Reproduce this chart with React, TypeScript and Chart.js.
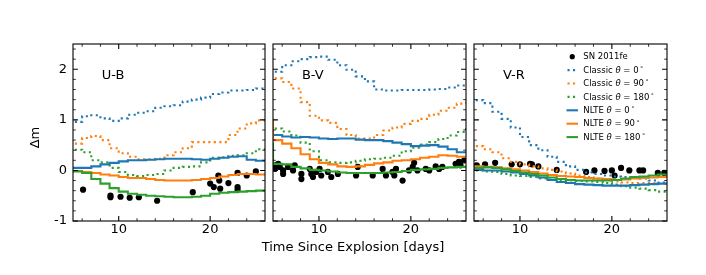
import React, { useEffect, useRef } from "react";
import { Chart, registerables } from "chart.js";

Chart.register(...registerables);

const FONT = "'DejaVu Sans', 'Liberation Sans', sans-serif";
const BLUE = "#1f77b4";
const ORANGE = "#ff7f0e";
const GREEN = "#2ca02c";

// ---------- data ----------
const MODEL_DAYS = [4, 5, 6, 7, 8, 9, 10, 11, 12, 13, 14, 15, 16, 17, 18, 19, 20, 21, 22, 23, 24, 25, 26];

const X_MIN = 5;
const X_MAX = 26;
const Y_MIN = -1;
const Y_MAX = 2.5;
const X_TICKS = [10, 20];
const X_MINOR_TICKS = [6, 8, 12, 14, 16, 18, 22, 24];
const Y_TICKS = [-1, 0, 1, 2];
const Y_MINOR_TICKS = [-0.8, -0.6, -0.4, -0.2, 0.2, 0.4, 0.6, 0.8, 1.2, 1.4, 1.6, 1.8, 2.2, 2.4];

const PANEL_LABELS = ["U-B", "B-V", "V-R"];
const OBS_LABEL = "SN 2011fe";
const MODEL_KINDS = ["Classic", "Classic", "Classic", "NLTE", "NLTE", "NLTE"];
const MODEL_ANGLES = [0, 90, 180, 0, 90, 180];
const X_TITLE = "Time Since Explosion [days]";
const Y_TITLE = "Δm";

// U-B
const UB_OBS_DAYS = [6.1, 9.1, 9.1, 10.2, 11.2, 12.2, 14.2, 18.1, 20.0, 20.4, 20.9, 21.0, 21.1, 22.0, 23.0, 23.0, 23.0, 24.0, 25.0];
const UB_OBS = [-0.38, -0.5, -0.53, -0.52, -0.54, -0.53, -0.6, -0.43, -0.26, -0.33, -0.1, -0.2, -0.36, -0.25, -0.05, -0.33, -0.38, -0.1, -0.02];
const UB_CLASSIC_0 = [0.96, 0.96, 1.07, 1.09, 1.03, 0.98, 1.03, 1.1, 1.14, 1.17, 1.24, 1.27, 1.29, 1.36, 1.4, 1.44, 1.51, 1.54, 1.58, 1.58, 1.59, 1.62, 1.66];
const UB_CLASSIC_90 = [0.53, 0.53, 0.64, 0.68, 0.6, 0.44, 0.34, 0.27, 0.22, 0.22, 0.23, 0.3, 0.36, 0.44, 0.56, 0.56, 0.56, 0.56, 0.7, 0.83, 0.93, 0.99, 1.0];
const UB_CLASSIC_180 = [0.41, 0.41, 0.36, 0.2, 0.16, 0.05, -0.03, -0.09, -0.11, -0.09, -0.07, 0.0, 0.05, 0.07, 0.08, 0.16, 0.25, 0.26, 0.29, 0.3, 0.34, 0.42, 0.44];
const UB_NLTE_0 = [0.05, 0.05, 0.05, 0.08, 0.12, 0.15, 0.18, 0.2, 0.2, 0.21, 0.22, 0.23, 0.23, 0.23, 0.22, 0.21, 0.23, 0.25, 0.27, 0.28, 0.21, 0.19, 0.19];
const UB_NLTE_90 = [-0.01, -0.01, -0.03, -0.05, -0.08, -0.1, -0.13, -0.15, -0.15, -0.17, -0.19, -0.2, -0.2, -0.2, -0.19, -0.17, -0.15, -0.12, -0.09, -0.07, -0.07, -0.08, -0.1];
const UB_NLTE_180 = [-0.02, -0.02, -0.05, -0.17, -0.26, -0.35, -0.42, -0.46, -0.48, -0.5, -0.51, -0.52, -0.53, -0.53, -0.52, -0.5, -0.46, -0.44, -0.43, -0.42, -0.41, -0.4, -0.38];

// B-V
const BV_OBS_DAYS = [5.2, 5.2, 5.56, 5.74, 6.1, 6.1, 6.64, 7.18, 7.36, 8.09, 8.09, 9.0, 9.17, 9.35, 9.71, 10.07, 10.25, 10.97, 11.34, 12.06, 14.22, 14.04, 15.85, 16.93, 17.29, 18.0, 18.2, 18.38, 19.1, 19.8, 20.2, 20.36, 20.72, 21.62, 22.0, 22.7, 23.07, 23.43, 24.87, 25.23, 25.4, 25.8];
const BV_OBS = [0.1, 0.03, 0.13, 0.07, 0.0, -0.07, 0.07, 0.0, 0.1, -0.07, -0.17, 0.03, -0.07, -0.13, -0.03, 0.03, -0.1, -0.03, -0.13, -0.07, 0.07, -0.1, -0.1, 0.03, -0.1, -0.03, -0.1, 0.03, -0.2, 0.0, 0.07, 0.15, 0.0, 0.03, 0.0, 0.08, 0.03, 0.07, 0.13, 0.17, 0.1, 0.2];
const BV_CLASSIC_0 = [1.95, 1.95, 2.08, 2.16, 2.2, 2.24, 2.25, 2.19, 2.08, 1.99, 1.86, 1.76, 1.6, 1.58, 1.58, 1.59, 1.59, 1.59, 1.6, 1.61, 1.64, 1.68, 1.73];
const BV_CLASSIC_90 = [1.82, 1.82, 1.75, 1.62, 1.35, 1.08, 0.99, 0.94, 0.82, 0.7, 0.63, 0.63, 0.7, 0.79, 0.85, 0.92, 0.98, 1.02, 1.1, 1.18, 1.24, 1.32, 1.4];
const BV_CLASSIC_180 = [0.83, 0.83, 0.77, 0.69, 0.55, 0.38, 0.2, 0.16, 0.15, 0.16, 0.19, 0.22, 0.23, 0.25, 0.29, 0.38, 0.45, 0.51, 0.56, 0.62, 0.69, 0.76, 0.84];
const BV_NLTE_0 = [0.7, 0.7, 0.67, 0.65, 0.66, 0.65, 0.63, 0.62, 0.63, 0.63, 0.61, 0.6, 0.6, 0.58, 0.55, 0.52, 0.48, 0.49, 0.5, 0.47, 0.42, 0.36, 0.34];
const BV_NLTE_90 = [1.0, 0.6, 0.53, 0.44, 0.32, 0.22, 0.15, 0.12, 0.08, 0.07, 0.08, 0.11, 0.14, 0.16, 0.19, 0.2, 0.22, 0.25, 0.27, 0.3, 0.29, 0.27, 0.26];
const BV_NLTE_180 = [0.53, 0.13, 0.12, 0.07, 0.04, 0.01, 0.0, -0.02, -0.04, -0.05, -0.05, -0.05, -0.05, -0.04, -0.03, -0.01, 0.01, 0.02, 0.03, 0.05, 0.06, 0.07, 0.07];

// V-R
const VR_OBS_DAYS = [5.3, 6.2, 7.3, 9.1, 10.0, 11.1, 11.3, 12.0, 14.0, 17.2, 18.1, 19.2, 20.0, 20.3, 21.0, 21.9, 23.0, 23.4, 25.0, 25.7];
const VR_OBS = [0.1, 0.12, 0.15, 0.12, 0.12, 0.13, 0.12, 0.08, 0.01, -0.03, 0.0, -0.01, 0.0, -0.1, 0.05, 0.0, 0.0, 0.0, -0.05, -0.05];
const VR_CLASSIC_0 = [1.39, 1.39, 1.33, 1.16, 1.02, 0.85, 0.66, 0.5, 0.4, 0.27, 0.17, 0.08, 0.01, -0.04, -0.07, -0.1, -0.12, -0.13, -0.13, -0.16, -0.2, -0.24, -0.26];
const VR_CLASSIC_90 = [0.48, 0.48, 0.42, 0.36, 0.24, 0.17, 0.12, 0.08, 0.04, 0.01, -0.02, -0.06, -0.1, -0.13, -0.16, -0.19, -0.22, -0.24, -0.25, -0.25, -0.25, -0.26, -0.26];
const VR_CLASSIC_180 = [0.0, 0.0, -0.02, -0.03, -0.07, -0.1, -0.11, -0.13, -0.16, -0.18, -0.19, -0.2, -0.21, -0.22, -0.23, -0.25, -0.28, -0.31, -0.34, -0.36, -0.39, -0.42, -0.43];
const VR_NLTE_0 = [0.01, 0.01, 0.0, 0.0, -0.02, -0.04, -0.07, -0.1, -0.14, -0.19, -0.23, -0.25, -0.27, -0.28, -0.29, -0.3, -0.3, -0.3, -0.29, -0.28, -0.27, -0.26, -0.25];
const VR_NLTE_90 = [0.08, 0.08, 0.07, 0.06, 0.04, 0.02, 0.0, -0.03, -0.06, -0.09, -0.11, -0.12, -0.13, -0.15, -0.16, -0.17, -0.19, -0.18, -0.16, -0.15, -0.14, -0.13, -0.12];
const VR_NLTE_180 = [0.05, 0.05, 0.06, 0.05, 0.02, -0.01, -0.04, -0.07, -0.1, -0.14, -0.17, -0.19, -0.2, -0.2, -0.2, -0.2, -0.19, -0.16, -0.13, -0.12, -0.1, -0.08, -0.07];

const PANEL_OBS_DAYS = [UB_OBS_DAYS, BV_OBS_DAYS, VR_OBS_DAYS];
const PANEL_OBS = [UB_OBS, BV_OBS, VR_OBS];
const PANEL_MODELS = [
  [UB_CLASSIC_0, UB_CLASSIC_90, UB_CLASSIC_180, UB_NLTE_0, UB_NLTE_90, UB_NLTE_180],
  [BV_CLASSIC_0, BV_CLASSIC_90, BV_CLASSIC_180, BV_NLTE_0, BV_NLTE_90, BV_NLTE_180],
  [VR_CLASSIC_0, VR_CLASSIC_90, VR_CLASSIC_180, VR_NLTE_0, VR_NLTE_90, VR_NLTE_180],
];

// ---------- layout / styles ----------
const W = 706;
const H = 275;
const PLOT_TOP = 44;
const PLOT_BOTTOM = 221;
const PANEL_BOUNDS = [
  [73, 265],
  [273, 466],
  [474, 667],
];
const MODEL_COLORS = [BLUE, ORANGE, GREEN, BLUE, ORANGE, GREEN];
const MODEL_DOTTED = [true, true, true, false, false, false];
const LINE_W = 2.1;
const DOT_DASH = [2.1, 3.4];

function drawRichLabel(ctx: CanvasRenderingContext2D, kind: string, angle: number, x: number, y: number, size: number) {
  let cx = x;
  const reg = `${size}px ${FONT}`;
  const ital = `italic ${size}px ${FONT}`;
  const sup = `${size * 0.7}px ${FONT}`;
  ctx.font = reg;
  ctx.fillText(kind + " ", cx, y);
  cx += ctx.measureText(kind + " ").width;
  ctx.font = ital;
  ctx.fillText("θ", cx, y);
  cx += ctx.measureText("θ").width;
  ctx.font = reg;
  const mid = " = " + angle;
  ctx.fillText(mid, cx, y);
  cx += ctx.measureText(mid).width + size * 0.15;
  ctx.font = sup;
  ctx.fillText("∘", cx, y - size * 0.38);
}

const framePlugin = {
  id: "frame",
  afterDraw(chart: any) {
    const { ctx, chartArea: a, scales } = chart;
    const xs = scales.x;
    const ys = scales.y;
    ctx.save();
    ctx.strokeStyle = "#000";
    const drawTicks = (vals: number[], len: number, lw: number, horiz: boolean) => {
      ctx.lineWidth = lw;
      ctx.beginPath();
      vals.forEach((v) => {
        if (horiz) {
          const px = xs.getPixelForValue(v);
          ctx.moveTo(px, a.bottom);
          ctx.lineTo(px, a.bottom - len);
          ctx.moveTo(px, a.top);
          ctx.lineTo(px, a.top + len);
        } else {
          const py = ys.getPixelForValue(v);
          ctx.moveTo(a.left, py);
          ctx.lineTo(a.left + len, py);
          ctx.moveTo(a.right, py);
          ctx.lineTo(a.right - len, py);
        }
      });
      ctx.stroke();
    };
    drawTicks(X_TICKS, 4.9, 1.1, true);
    drawTicks(X_MINOR_TICKS, 2.8, 0.8, true);
    drawTicks(Y_TICKS, 4.9, 1.1, false);
    drawTicks(Y_MINOR_TICKS, 2.8, 0.8, false);
    ctx.lineWidth = 1.1;
    ctx.strokeRect(a.left, a.top, a.right - a.left, a.bottom - a.top);

    // panel label
    const idx = chart.options.plugins.frame.index;
    ctx.fillStyle = "#000";
    ctx.font = `13px ${FONT}`;
    ctx.textAlign = "left";
    ctx.textBaseline = "alphabetic";
    ctx.fillText(PANEL_LABELS[idx], a.left + 0.15 * (a.right - a.left), a.bottom - 0.8 * (a.bottom - a.top));

    if (idx === 0) {
      ctx.textAlign = "center";
      ctx.fillText(X_TITLE, W / 2, 251);
      ctx.save();
      ctx.translate(38.5, H / 2);
      ctx.rotate(-Math.PI / 2);
      ctx.fillText(Y_TITLE, 0, 0);
      ctx.restore();
    }

    if (idx === 2) {
      // legend
      const rowY0 = 56.7;
      const step = 13.4;
      const hx0 = 566.5;
      const hx1 = 578;
      const tx = 583.3;
      const fs = 8.5;
      ctx.textAlign = "left";
      ctx.textBaseline = "middle";
      ctx.fillStyle = "#000";
      ctx.beginPath();
      ctx.arc((hx0 + hx1) / 2, rowY0, 2.6, 0, Math.PI * 2);
      ctx.fill();
      ctx.font = `${fs}px ${FONT}`;
      ctx.fillText(OBS_LABEL, tx, rowY0 + 0.5);
      MODEL_KINDS.forEach((kind, k) => {
        const y = rowY0 + step * (k + 1);
        ctx.save();
        ctx.strokeStyle = MODEL_COLORS[k];
        ctx.lineWidth = LINE_W;
        ctx.lineCap = "butt";
        ctx.setLineDash(MODEL_DOTTED[k] ? DOT_DASH : []);
        ctx.lineDashOffset = MODEL_DOTTED[k] ? -1 : 0;
        ctx.beginPath();
        ctx.moveTo(hx0, y);
        ctx.lineTo(hx1, y);
        ctx.stroke();
        ctx.restore();
        ctx.fillStyle = "#000";
        drawRichLabel(ctx, kind, MODEL_ANGLES[k], tx, y + 0.5, fs);
      });
    }
    ctx.restore();
  },
};

function Panel({ index }: { index: number }) {
  const ref = useRef<HTMLCanvasElement>(null);
  useEffect(() => {
    const [L, R] = PANEL_BOUNDS[index];
    const obsDays = PANEL_OBS_DAYS[index];
    const obs = PANEL_OBS[index];
    const datasets: any[] = [
      {
        label: OBS_LABEL,
        data: obsDays.map((d, i) => ({ x: d, y: obs[i] })),
        showLine: false,
        pointRadius: 3.1,
        pointBackgroundColor: "#000",
        pointBorderColor: "#000",
        pointBorderWidth: 0,
        order: 10,
      },
    ];
    PANEL_MODELS[index].forEach((vals, k) => {
      datasets.push({
        label: `${MODEL_KINDS[k]} ${MODEL_ANGLES[k]}`,
        data: MODEL_DAYS.map((d, i) => ({ x: d, y: vals[i] })),
        borderColor: MODEL_COLORS[k],
        backgroundColor: MODEL_COLORS[k],
        borderWidth: LINE_W,
        borderDash: MODEL_DOTTED[k] ? DOT_DASH : [],
        borderCapStyle: "butt",
        pointRadius: 0,
        stepped: "before",
        fill: false,
        tension: 0,
        clip: 0,
        order: 9 - k,
      });
    });

    const isFirst = index === 0;
    const chart = new Chart(ref.current as HTMLCanvasElement, {
      type: "line",
      data: { datasets },
      options: {
        animation: false,
        responsive: false,
        events: [],
        devicePixelRatio: 1,
        layout: {
          padding: { left: isFirst ? 0 : L, right: W - R, top: PLOT_TOP, bottom: 0 },
        },
        plugins: {
          legend: { display: false },
          tooltip: { enabled: false },
          frame: { index },
        } as any,
        scales: {
          x: {
            type: "linear",
            min: X_MIN,
            max: X_MAX,
            grid: { display: false, drawTicks: false },
            border: { display: false },
            ticks: {
              color: "#000",
              font: { family: FONT, size: 13 },
              padding: 1,
              maxRotation: 0,
              autoSkip: false,
            },
            afterBuildTicks: (s: any) => {
              s.ticks = X_TICKS.map((v) => ({ value: v }));
            },
            afterFit: (s: any) => {
              s.height = H - PLOT_BOTTOM;
            },
          },
          y: {
            type: "linear",
            min: Y_MIN,
            max: Y_MAX,
            display: isFirst,
            grid: { display: false, drawTicks: false },
            border: { display: false },
            ticks: {
              color: "#000",
              font: { family: FONT, size: 13 },
              padding: 6,
              autoSkip: false,
            },
            afterBuildTicks: (s: any) => {
              s.ticks = Y_TICKS.map((v) => ({ value: v }));
            },
            afterFit: (s: any) => {
              s.width = isFirst ? L : 0;
            },
          },
        },
      } as any,
      plugins: [framePlugin as any],
    });
    return () => chart.destroy();
  }, [index]);
  return (
    <canvas
      ref={ref}
      width={W}
      height={H}
      style={{ position: "absolute", left: 0, top: 0, width: W, height: H }}
    />
  );
}

export default function App() {
  return (
    <div style={{ position: "fixed", left: 0, top: 0, width: W, height: H, background: "#fff" }}>
      <Panel index={0} />
      <Panel index={1} />
      <Panel index={2} />
    </div>
  );
}
